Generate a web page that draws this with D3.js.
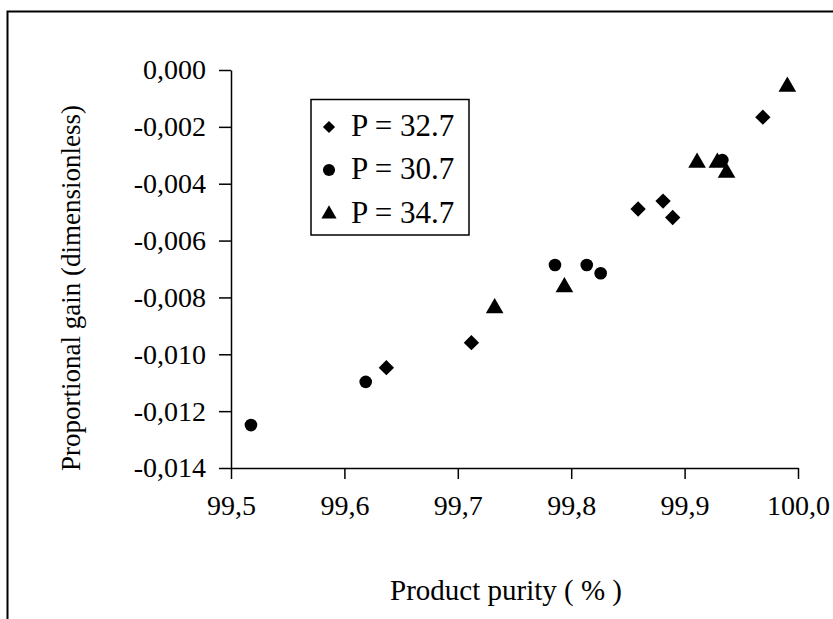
<!DOCTYPE html>
<html><head><meta charset="utf-8">
<script src="https://cdn.jsdelivr.net/npm/d3@7"></script>
<style>body{margin:0;background:#fff}</style>
</head><body>
<svg id="c" width="833" height="619"></svg>
<script>
const xTicks = [99.5, 99.6, 99.7, 99.8, 99.9, 100.0];
const yTicks = [0, -0.002, -0.004, -0.006, -0.008, -0.010, -0.012, -0.014];
const seriesNames = ["P = 32.7", "P = 30.7", "P = 34.7"];
const p327x = [99.637, 99.712, 99.859, 99.881, 99.8895, 99.969];
const p327y = [-0.01047, -0.00959, -0.00489, -0.00461, -0.00519, -0.00166];
const p307x = [99.5176, 99.6188, 99.7857, 99.8137, 99.826, 99.9333];
const p307y = [-0.01249, -0.01097, -0.00686, -0.00686, -0.00715, -0.00317];
const p347x = [99.7325, 99.794, 99.911, 99.9289, 99.937, 99.9906];
const p347y = [-0.00838, -0.00764, -0.00326, -0.00326, -0.00361, -0.00059];

const svg = d3.select("#c");
const font = "'Liberation Serif','Times New Roman',serif";
svg.append("rect").attr("x",7.5).attr("y",11.5).attr("width",900).attr("height",700)
  .attr("fill","none").attr("stroke","#000").attr("stroke-width",2);

const x = d3.scaleLinear().domain([99.5,100.0]).range([231,798]);
const y = d3.scaleLinear().domain([-0.014,0]).range([468,70]);

const xa = svg.append("g").attr("transform","translate(0,468)")
  .call(d3.axisBottom(x).tickValues(xTicks).tickSize(11).tickSizeOuter(0).tickPadding(16)
    .tickFormat(d => d3.format(".1f")(d).replace(".",",")));
const ya = svg.append("g").attr("transform","translate(231,0)")
  .call(d3.axisLeft(y).tickValues(yTicks).tickSize(12).tickSizeOuter(0).tickPadding(13)
    .tickFormat(d => d3.format(".3f")(d).replace("−","-").replace(".",",")));
[xa,ya].forEach(a=>{
  a.selectAll("path,line").attr("stroke","#000").attr("stroke-width",1.5);
  a.selectAll("text").attr("font-family",font).attr("font-size",28).attr("fill","#000");
});

const symD = d3.symbol().type(d3.symbolDiamond2).size(150);
const symC = d3.symbol().type(d3.symbolCircle).size(125);
const symT = d3.symbol().type(d3.symbolTriangle).size(135);
const series = [
  {xs:p327x, ys:p327y, sym:symD},
  {xs:p307x, ys:p307y, sym:symC},
  {xs:p347x, ys:p347y, sym:symT}
];
series.forEach(s=>{
  svg.append("g").selectAll("path").data(s.xs.map((v,i)=>[v,s.ys[i]])).join("path")
    .attr("d", s.sym()).attr("transform", d=>`translate(${x(d[0])},${y(d[1])})`).attr("fill","#000");
});

// legend
const lg = svg.append("g");
lg.append("rect").attr("x",311).attr("y",99.5).attr("width",158).attr("height",135.5)
  .attr("fill","#fff").attr("stroke","#000").attr("stroke-width",1.5);
const rowY = [127, 170, 214];
const legSizes = [95, 115, 100];
seriesNames.forEach((n,i)=>{
  lg.append("path").attr("d", d3.symbol().type(series[i].sym.type()).size(legSizes[i])())
    .attr("transform",`translate(329,${rowY[i]})`).attr("fill","#000");
  lg.append("text").attr("x",351).attr("y",rowY[i]+9).text(n)
    .attr("font-family",font).attr("font-size",31).attr("fill","#000");
});

svg.append("text").attr("x",506).attr("y",600).attr("text-anchor","middle")
  .attr("font-family",font).attr("font-size",29).text("Product purity ( % )");
svg.append("text").attr("transform","translate(80,288) rotate(-90)").attr("text-anchor","middle")
  .attr("font-family",font).attr("font-size",27).text("Proportional gain (dimensionless)");
</script>
</body></html>
